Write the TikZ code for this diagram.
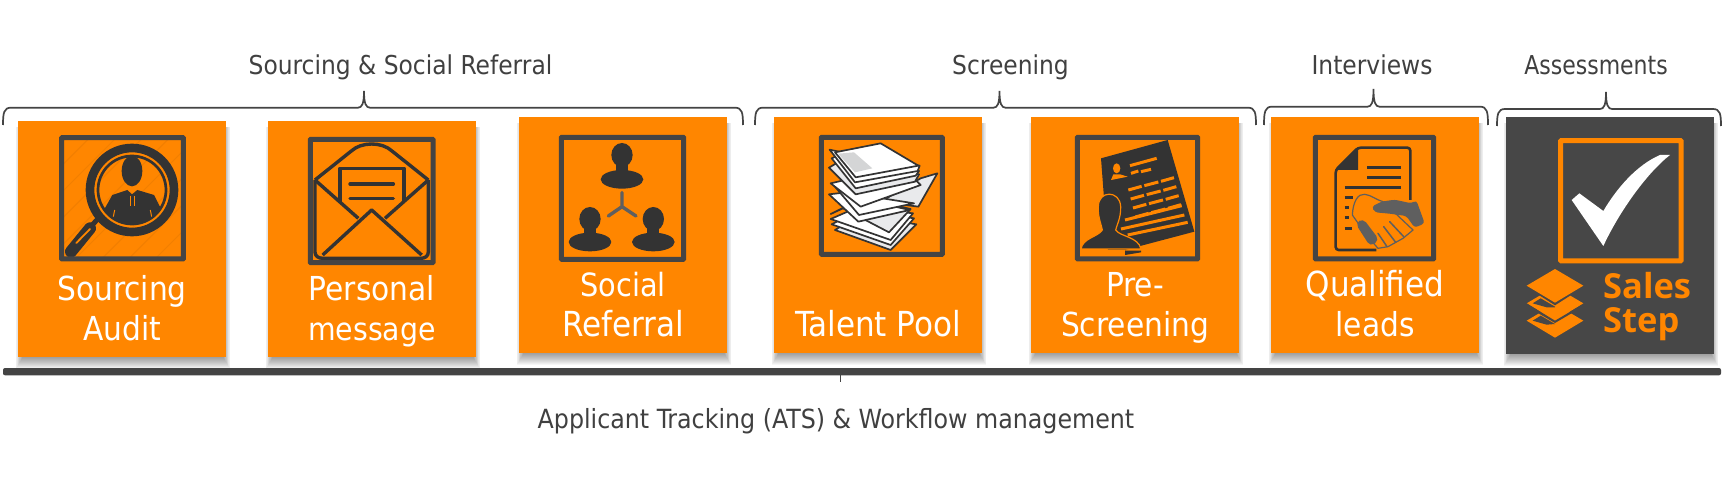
\documentclass[tikz,border=0pt]{standalone}
\usepackage{fontspec}
\setmainfont{DejaVu Sans Condensed}
\newfontfamily\logofont{Open Sans}
\definecolor{org}{HTML}{FF8600}
\definecolor{orgd}{HTML}{F27F00}
\definecolor{ink}{HTML}{333333}
\definecolor{frm}{HTML}{444444}
\definecolor{txt}{HTML}{404040}
\definecolor{darkbox}{HTML}{474747}
\definecolor{midg}{HTML}{5F5F5F}
\definecolor{pap}{HTML}{E9EAEC}
\newcommand{\tile}[6]{%
  \foreach \d in {0,...,12}{
    \pgfmathsetmacro{\lx}{#2+5-\d*.6}
    \pgfmathsetmacro{\rx}{#4-3+\d*.6}
    \pgfmathsetmacro{\by}{#5+\d}
    \fill[black,opacity=.035] (\lx,#3+6) rectangle (\rx,\by);
  }
  \node[tilebox,fill=#6,minimum width={#4-#2},minimum height={#5-#3}] (#1) at ({(#2+#4)/2},{(#3+#5)/2}) {};
}
\newcommand{\mybrace}[6]{% x0 x1 tip yline ytop yend
  \draw[bracel] (#1,#6) .. controls (#1,{#4+5}) and (#1+1,#4) .. (#1+8,#4)
    -- (#3-6,#4) .. controls (#3-2,#4) and (#3,{#4-4}) .. (#3,#5)
    .. controls (#3,{#4-4}) and (#3+2,#4) .. (#3+6,#4)
    -- (#2-8,#4) .. controls (#2-1,#4) and (#2,{#4+5}) .. (#2,#6);
}
\newcommand{\sperson}[3]{%
  \fill[ink] (#1,#2) ellipse [x radius=32,y radius=36];
  \fill[ink] (#1-18,#2+10) rectangle (#1+18,#3);
  \fill[ink] (#1,#3) ellipse [x radius=64,y radius=28];
}
\tikzset{
  tilebox/.style={rectangle,draw=none,inner sep=0pt,outer sep=0pt},
  frame/.style={draw=frm,line width=5pt,rounded corners=.6pt},
  whitetxt/.style={text=white,anchor=base,inner sep=0pt,font=\fontsize{33}{33}\selectfont},
  toptxt/.style={text=txt,anchor=base,inner sep=0pt,font=\fontsize{26}{26}\selectfont},
  bracel/.style={draw=frm,line width=1.7pt},
  paper/.style={fill=white,draw=ink,line width=1.7pt,line join=round},
  paperg/.style={fill=pap,draw=ink,line width=1.7pt,line join=round},
  logotxt/.style={anchor=base west,inner sep=0pt,text=org,font=\logofont\bfseries\fontsize{34.5}{34}\selectfont},
}
\begin{document}
\begin{tikzpicture}[x=1pt,y=-1pt]
\useasboundingbox (0,0) rectangle (1732,500);
\fill[white] (0,0) rectangle (1732,500);

% ---- brackets
\mybrace{3}{743}{364}{107.7}{91}{125}
\mybrace{755}{1256}{999.5}{107.7}{91}{125}
\mybrace{1264}{1488}{1373.5}{106.7}{89}{125}
\mybrace{1497}{1721}{1606}{109}{92}{126}

% ---- tiles
\tile{b1}{18}{121}{226}{357}{org}
\tile{b2}{268}{121}{476}{357}{org}
\tile{b3}{519}{117}{727}{353}{org}
\tile{b4}{774}{117}{982}{353}{org}
\tile{b5}{1031}{117}{1239}{353}{org}
\tile{b6}{1271}{117}{1479}{353}{org}
\tile{b7}{1506}{117}{1714}{354}{darkbox}

% ---- bottom bar
\fill[frm,rounded corners=2pt] (3,368) rectangle (1721,375.3);
\draw[frm,line width=1pt] (840,375) -- (840,382);

% ---- top labels
\node[toptxt] (t1) at (400.5,75) {Sourcing \& Social Referral};
\node[toptxt] (t2) at (1010.5,75) {Screening};
\node[toptxt] (t3) at (1372,75) {Interviews};
\node[toptxt] (t4) at (1596,75) {\scalebox{.94}[1]{Assessments}};
\node[toptxt,font=\fontsize{26.4}{26.4}\selectfont] (t5) at (836,428) {Applicant Tracking (ATS) \& Workflow management};

% ---- tile labels
\node[whitetxt] (l1a) at (122,300) {Sourcing};
\node[whitetxt] (l1b) at (122,340) {Audit};
\node[whitetxt] (l2a) at (372,300) {Personal};
\node[whitetxt,font=\fontsize{31.5}{33}\selectfont] (l2b) at (372,340) {message};
\node[whitetxt,font=\fontsize{32}{33}\selectfont] (l3a) at (623,296) {Social};
\node[whitetxt,font=\fontsize{34.5}{33}\selectfont] (l3b) at (623,336) {Referral};
\node[whitetxt,font=\fontsize{34.5}{33}\selectfont] (l4) at (878,336) {Talent Pool};
\node[whitetxt] (l5a) at (1135,296) {Pre-};
\node[whitetxt] (l5b) at (1135,336) {Screening};
\node[whitetxt,font=\fontsize{34.5}{33}\selectfont] (l6a) at (1375,296) {Qualified};
\node[whitetxt] (l6b) at (1375,336) {leads};

% ---- icon 1: magnifier
\begin{scope}[shift={(59,135)},scale=1/3]
  \begin{scope}
    \clip (8,8) rectangle (372,375);
    \foreach \k in {-280,-200,...,420}
      \draw[orgd,line width=1pt] (\k,380) -- (\k+380,0);
  \end{scope}
  \fill[ink,even odd rule] (219,165) circle (139) (219,165) circle (113);
  \draw[ink,line width=2.7pt] (219,165) circle (102);
  \begin{scope}
    \clip (219,165) circle (100);
    \fill[ink] (130,280) -- (133,228) -- (160,180) -- (205,165) -- (219,178) -- (235,165) -- (285,180) -- (308,225) -- (308,280) -- cycle;
    \draw[org,line width=1pt] (167,225) -- (163,245);
    \draw[org,line width=1pt] (274,225) -- (278,245);
    \draw[org,line width=.9pt] (213,182) -- (213,212) (227,182) -- (227,212);
  \end{scope}
  \fill[ink] (219,108) ellipse [x radius=31,y radius=46];
  \draw[ink,line width=5pt] (118,250) -- (98,272);
  \draw[ink,line width=12pt,line cap=round] (93,280) -- (36,350);
  \draw[org,line width=1.8pt,line cap=round] (93,282) -- (52,324);
  \draw[frame] (8,8) rectangle (373,372);
\end{scope}

% ---- icon 2: envelope
\begin{scope}[shift={(308,137)},scale=1/3]
  \begin{scope}[line width=3.4pt,draw=ink,line join=round]
    \draw (21,129) -- (130,42) .. controls (160,14) and (222,14) .. (252,42) -- (361,129);
    \draw (21,129) -- (21,345) .. controls (21,358) and (32,364) .. (45,364) -- (338,364) .. controls (350,364) and (361,358) .. (361,345) -- (361,129);
    \draw (21,129) -- (151,244);
    \draw (361,129) -- (231,244);
    \draw (44,354) -- (191,219) -- (341,354);
    \draw (96,195) -- (96,94) -- (288,94) -- (288,195);
    \draw[line cap=round] (126,141) -- (256,141);
    \draw[line cap=round] (126,184) -- (256,184);
  \end{scope}
  \draw[frame] (7,7) rectangle (375,377);
\end{scope}

% ---- icon 3: people
\begin{scope}[shift={(500,60)},scale=1/3]
  \draw[frame] (184,232) rectangle (551,598);
  \sperson{366}{285}{358}
  \sperson{270}{477}{546}
  \sperson{460}{477}{546}
  \draw[midg,line width=3.4pt,line cap=round] (366,398) -- (366,440) -- (325,468) (366,440) -- (408,468);
\end{scope}

% ---- icon 4: pile of papers
\begin{scope}[shift={(819,135)},scale=1/3]
  \path[paperg] (48,285) -- (215,345) -- (292,268) -- (120,240) -- cycle;
  \path[paper] (38,268) -- (215,330) -- (285,250) -- (120,225) -- cycle;
  \path[paper] (35,252) -- (215,315) -- (282,235) -- (120,215) -- cycle;
  \path[paperg] (35,237) -- (72,220) -- (210,292) -- (275,222) -- (130,190) -- cycle;
  \path[paperg] (185,200) -- (305,130) -- (355,115) -- (298,215) -- cycle;
  \path[paper] (30,178) -- (118,260) -- (272,225) -- (185,205) -- (100,170) -- cycle;
  \path[paper] (42,148) -- (120,240) -- (285,205) -- (190,190) -- (100,150) -- cycle;
  \path[paper] (35,145) -- (125,215) -- (305,150) -- (280,125) -- (100,130) -- cycle;
  \path[paperg] (30,98) -- (110,178) -- (288,140) -- (300,118) -- (60,80) -- cycle;
  \path[paper] (38,70) -- (110,160) -- (290,122) -- (300,108) -- (60,60) -- cycle;
  \path[paper] (32,44) -- (108,142) -- (296,108) -- (302,92) -- (60,50) -- cycle;
  \path[paper] (48,52) -- (185,25) -- (298,92) -- (110,127) -- cycle;
  \fill[pap!80!gray] (57,56) -- (105,52) -- (160,100) -- (108,112) -- cycle;
  \draw[frame] (7,7) rectangle (370,358);
\end{scope}

% ---- icon 5: CV
\begin{scope}[shift={(1075,135)},scale=1/3]
  \fill[ink] (78,70) -- (278,15) -- (358,290) -- (150,345) -- (150,360) -- (100,360) -- cycle;
  \fill[org] (125,100) ellipse [x radius=11,y radius=15];
  \fill[org] (108,135) -- (115,118) -- (135,118) -- (158,125) -- cycle;
  \begin{scope}[org,line width=3pt]
    \draw (165,92) -- (245,70);
    \draw (168,115) -- (190,108);
    \draw (198,110) -- (228,103);
    \foreach \r in {0,1,2,3}{
      \begin{scope}[shift={({7*\r},{27*\r})}]
        \draw[org] (160,165) -- (200,154);
        \draw[org] (208,152) -- (250,141);
        \draw[org] (258,139) -- (297,128);
      \end{scope}
    }
    \draw (150,255) -- (320,212);
    \draw (138,282) -- (328,240);
    \draw (158,300) -- (338,262);
  \end{scope}
  \path[fill=ink,draw=org,line width=1.2pt]
    (70,215) .. controls (70,165) and (135,165) .. (137,215)
    .. controls (138,250) and (125,270) .. (122,285)
    .. controls (135,305) and (190,305) .. (198,342)
    -- (18,342) .. controls (22,310) and (70,305) .. (82,285)
    .. controls (78,265) and (68,245) .. (70,215) -- cycle;
  \fill[org] (0,345) rectangle (150,372);
  \fill[ink] (150,347) -- (198,347) -- (198,352) -- (150,360) -- cycle;
  \draw[frame] (7,7) rectangle (368,372);
\end{scope}

% ---- icon 6: contract and handshake
\begin{scope}[shift={(1313,135)},scale=1/3]
  \draw[ink,line width=2.6pt,line join=round,rounded corners=3pt] (292,195) -- (292,38) -- (135,38) -- (68,105) -- (68,345) -- (190,345);
  \fill[ink] (68,105) -- (135,38) -- (135,105) -- cycle;
  \begin{scope}[ink,line width=2.8pt]
    \draw (163,98) -- (265,98);
    \draw (163,127) -- (265,127);
    \draw (95,157) -- (265,157);
    \draw (95,187) -- (120,187);
    \draw (95,217) -- (108,217);
    \draw (95,247) -- (108,247);
    \draw (95,280) -- (117,280);
  \end{scope}
  \path[fill=org,draw=midg,line width=1.2pt,line join=round]
    (118,240) .. controls (120,200) and (135,175) .. (155,178)
    .. controls (175,180) and (190,195) .. (210,200)
    -- (300,285) -- (270,310) -- (225,335) -- (195,340) -- (160,300) -- cycle;
  \draw[midg,line width=1.5pt,line cap=round] (230,260) -- (272,305);
  \draw[midg,line width=1.5pt,line cap=round] (212,275) -- (248,322);
  \draw[midg,line width=1.5pt,line cap=round] (195,295) -- (222,335);
  \fill[midg,rounded corners=3pt] (176,215) -- (205,200) -- (245,194) -- (295,205) -- (310,196) -- (335,265) -- (305,278) -- (280,243) -- (230,236) -- (186,232) -- cycle;
  \fill[midg,rounded corners=5pt] (127,265) -- (150,250) -- (199,315) -- (172,335) -- cycle;
  \draw[frame] (7,7) rectangle (362,372);
\end{scope}

% ---- icon 7: check and logo
\begin{scope}[shift={(1520,130)},scale=1/3]
  \draw[draw=org,line width=5pt,rounded corners=.6pt] (122,32) rectangle (483,393);
  \fill[white] (155,210) -- (178,190) -- (250,243)
    .. controls (290,175) and (350,105) .. (420,75) -- (450,75)
    .. controls (385,125) and (300,240) .. (250,348) -- cycle;
  \fill[org] (20,520) -- (105,470) -- (190,520) -- (105,572) -- cycle;
  \fill[org] (20,572) -- (105,522) -- (190,572) -- (105,623) -- cycle;
  \fill[darkbox] (13,467) -- (105,412) -- (197,467) -- (105,526) -- cycle;
  \fill[org] (20,467) -- (105,417) -- (190,467) -- (105,518) -- cycle;
  \fill[darkbox] (38,520) -- (62,505) -- (105,530) -- (105,532) -- (80,532) -- cycle;
  \fill[darkbox] (105,572) -- (190,522) -- (197,525) -- (105,579) -- (13,525) -- (20,520) -- cycle;
  \fill[darkbox] (38,572) -- (62,557) -- (105,582) -- (80,584) -- cycle;
\end{scope}
\node[logotxt] (s1) at (1603,298) {Sales};
\node[logotxt] (s2) at (1603,332) {Step};
\end{tikzpicture}
\end{document}
